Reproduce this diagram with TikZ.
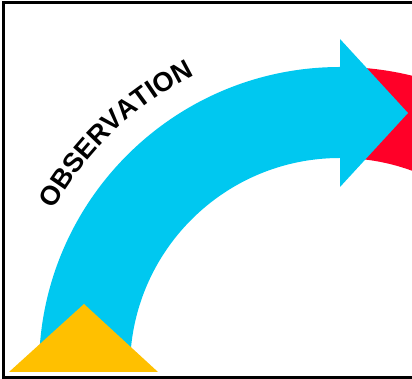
\documentclass[tikz,border=0pt]{standalone}
\usepackage{fontspec}
\setsansfont{Liberation Sans}
\usetikzlibrary{decorations.text}
\definecolor{obscyan}{RGB}{0,200,240}
\definecolor{obsred}{RGB}{255,0,40}
\definecolor{obsyellow}{RGB}{255,192,0}
\newcommand{\obsfont}{\fontsize{27}{27}\selectfont\sffamily\bfseries}
\begin{document}
\begin{tikzpicture}[x=1pt,y=1pt,
  bandfill/.style={fill=#1, draw=none},
  framestyle/.style={draw=black, line width=3pt}]
\useasboundingbox (0,0) rectangle (412,379);
\begin{scope}
\clip (0,0) rectangle (412,379);
\coordinate (C) at (340,11);
% red band behind the arrow head
\path[bandfill=obsred] ([shift={(90:301)}]C) arc[start angle=90,end angle=40,radius=301]
  -- ([shift={(40:210)}]C) arc[start angle=40,end angle=90,radius=210] -- cycle;
% cyan curved arrow
\path[bandfill=obscyan] ([shift={(180:301)}]C) arc[start angle=180,end angle=90,radius=301]
  -- (340,340) -- (408,266) -- (340,192)
  -- ([shift={(90:210)}]C) arc[start angle=90,end angle=180,radius=210] -- cycle;
% yellow triangle
\path[bandfill=obsyellow] (9,7) -- (84,75) -- (158,7) -- cycle;
% label along the arc
\path[decorate, decoration={text along path, text={|\obsfont|OBSERVATION}, text align=center}]
  ([shift={(152:327)}]C) arc[start angle=152,end angle=115.5,radius=327];
% frame (open on the right)
\path[framestyle] (3.7,1.5) rectangle (440,376.3);
\end{scope}
\end{tikzpicture}
\end{document}
